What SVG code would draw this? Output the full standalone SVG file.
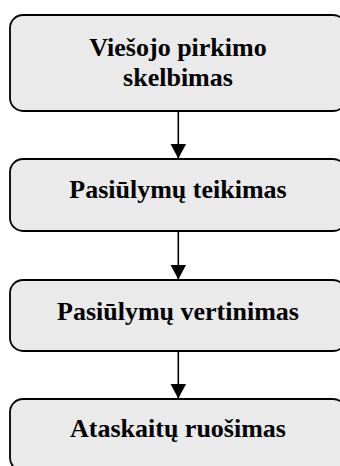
<svg xmlns="http://www.w3.org/2000/svg" width="340" height="466" viewBox="0 0 340 466">
<style>
.box{fill:#eaeaea;stroke:#000;stroke-width:1.8}
.t{font-family:"Liberation Serif","Times New Roman",serif;font-weight:bold;font-size:26px;fill:#000;text-anchor:middle}
.c{stroke:#000;stroke-width:1.6;fill:none}
</style>
<defs>
<marker id="ah" markerUnits="userSpaceOnUse" markerWidth="16" markerHeight="16" refX="15" refY="8" orient="auto">
<path d="M0,0 L15,8 L0,16 Z" fill="#000"/>
</marker>
</defs>
<g id="n1"><rect class="box" x="10" y="15" width="336" height="96" rx="13"/><text class="t" x="178" y="56">Viešojo pirkimo</text><text class="t" x="178" y="86">skelbimas</text></g>
<g id="n2"><rect class="box" x="10" y="159" width="336" height="72" rx="13"/><text class="t" x="178" y="198">Pasiūlymų teikimas</text></g>
<g id="n3"><rect class="box" x="10" y="280" width="336" height="71" rx="13"/><text class="t" x="178" y="320">Pasiūlymų vertinimas</text></g>
<g id="n4"><rect class="box" x="10" y="399" width="336" height="72" rx="13"/><text class="t" x="178" y="437">Ataskaitų ruošimas</text></g>
<g id="connectors">
<line class="c" x1="178.3" y1="111" x2="178.3" y2="158.5" marker-end="url(#ah)"/>
<line class="c" x1="178.3" y1="231" x2="178.3" y2="279.5" marker-end="url(#ah)"/>
<line class="c" x1="178.3" y1="351" x2="178.3" y2="398.5" marker-end="url(#ah)"/>
</g>
</svg>
